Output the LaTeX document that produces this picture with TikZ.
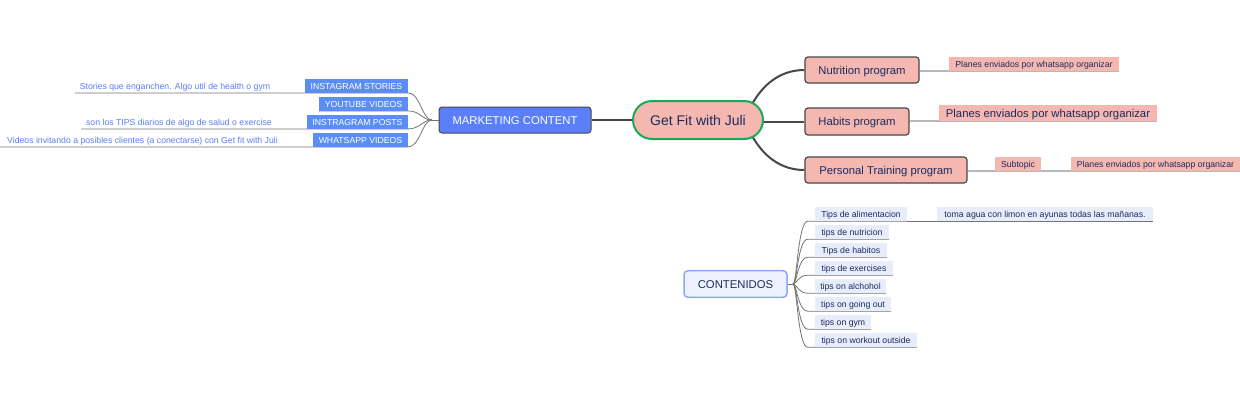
\documentclass[tikz,border=0pt]{standalone}
\usepackage{fontspec}
\setmainfont{Liberation Sans}
\usetikzlibrary{calc,backgrounds}
\definecolor{salmon}{HTML}{F4B8B1}
\definecolor{navy}{HTML}{1C2A5E}
\definecolor{mblue}{HTML}{5B7FF9}
\definecolor{cblue}{HTML}{5A8EF4}
\definecolor{ltxt}{HTML}{5B7CF2}
\definecolor{cfill}{HTML}{EDF2FE}
\definecolor{cbord}{HTML}{8BA7F7}
\definecolor{tfill}{HTML}{E7EDFB}
\definecolor{cgreen}{HTML}{1AAA55}
\definecolor{dgrey}{HTML}{474747}
\begin{document}
\begin{tikzpicture}[x=1pt,y=-1pt,
  every node/.style={inner sep=0pt},
  fbig/.style={font=\fontsize{14}{16}\selectfont, text height=10.1pt, text depth=0pt},
  fmid/.style={font=\fontsize{11.3}{13}\selectfont, text height=8.1pt, text depth=0pt},
  fsml/.style={font=\fontsize{8.7}{10}\selectfont, text height=6.3pt, text depth=0pt},
  rootbox/.style={fbig, fill=salmon, draw=cgreen, line width=2pt, rounded corners=19pt, text=navy, minimum height=38pt},
  prog/.style={fmid, fill=salmon, draw=dgrey, line width=1.2pt, rounded corners=3pt, text=navy, minimum height=26pt},
  pchild/.style={fsml, fill=salmon, text=navy, minimum height=13.4pt},
  mkbox/.style={fmid, fill=mblue, draw=dgrey, line width=1pt, rounded corners=3pt, text=white, minimum height=26pt},
  lbox/.style={fsml, fill=cblue, text=white, minimum height=13.4pt},
  ltext/.style={fsml, text=ltxt},
  conbox/.style={fmid, fill=cfill, draw=cbord, line width=1.5pt, rounded corners=4pt, text=navy, minimum height=26.6pt},
  tipbox/.style={fsml, fill=tfill, text=navy, minimum height=14pt},
  mainconn/.style={draw=dgrey, line width=2pt},
  subconn/.style={draw=black!28, line width=1.5pt},
  thinconn/.style={draw=black!55, line width=0.8pt}
]
\useasboundingbox (0,0) rectangle (1240,400);

% root and marketing
\node[rootbox, minimum width=130pt] (c) at (698,120) {Get Fit with Juli};
\node[mkbox, minimum width=152pt] (mk) at (515,120) {MARKETING CONTENT};

% programs
\node[prog, minimum width=114pt] (nut) at (862,70) {Nutrition program};
\node[prog, minimum width=104pt, minimum height=27pt] (hab) at (857,121.5) {Habits program};
\node[prog, minimum width=162pt] (pt) at (886,170) {Personal Training program};
\node[pchild, minimum width=170pt] (nc) at (1034,64) {Planes enviados por whatsapp organizar};
\node[pchild, fmid, minimum width=218pt, minimum height=16pt] (hc) at (1048,113) {Planes enviados por whatsapp organizar};
\node[pchild, minimum width=46pt, minimum height=14pt] (sub) at (1018,164) {Subtopic};
\node[pchild, minimum width=169pt, minimum height=14pt] (pc) at (1155.5,164) {Planes enviados por whatsapp organizar};

% marketing children
\node[lbox, minimum width=103pt] (is) at (356.5,86) {INSTAGRAM STORIES};
\node[lbox, minimum width=89pt] (yv) at (363.5,104) {YOUTUBE VIDEOS};
\node[lbox, minimum width=101pt] (ip) at (357.5,122) {INSTRAGRAM POSTS};
\node[lbox, minimum width=95pt] (wv) at (360.5,140) {WHATSAPP VIDEOS};
\node[ltext] (ist) at (175,86) {Stories que enganchen. Algo util de health o gym};
\node[ltext] (ipt) at (179,122.5) {son los TIPS diarios de algo de salud o exercise};
\node[ltext] (wvt) at (142.5,140.5) {Videos invitando a posibles clientes (a conectarse) con Get fit with Juli};
\coordinate (isL) at (75,93);
\coordinate (ipL) at (81,129);
\coordinate (wvL) at (0,147);
\coordinate (mkin) at (432,120);

% contenidos
\node[conbox, minimum width=103pt] (con) at (735.5,284) {CONTENIDOS};
\coordinate (conin) at (793,284);
\node[tipbox, minimum width=92pt] (t1) at (861,214) {Tips de alimentacion};
\node[tipbox, minimum width=74pt] (t2) at (852,232) {tips de nutricion};
\node[tipbox, minimum width=72pt] (t3) at (851,250) {Tips de habitos};
\node[tipbox, minimum width=78pt] (t4) at (854,268) {tips de exercises};
\node[tipbox, minimum width=71pt] (t5) at (850.5,286) {tips on alchohol};
\node[tipbox, minimum width=76pt] (t6) at (853,304) {tips on going out};
\node[tipbox, minimum width=56pt] (t7) at (843,322) {tips on gym};
\node[tipbox, minimum width=102pt] (t8) at (866,340) {tips on workout outside};
\node[tipbox, minimum width=216pt] (t1c) at (1045,214) {toma agua con limon en ayunas todas las mañanas.};

\begin{scope}[on background layer]
  % root connectors
  \draw[mainconn] (mk.east) -- (c.west);
  \draw[mainconn] ($(c.east)+(-16,-8)$) .. controls +(14,-30) and +(-22,0) .. (nut.west);
  \draw[mainconn] (c.east |- hab.west) -- (hab.west);
  \draw[mainconn] ($(c.east)+(-16,8)$) .. controls +(14,30) and +(-22,0) .. (pt.west);
  % program children
  \draw[subconn] (nut.east |- nc.south) -- (nc.south east);
  \draw[subconn] (hab.east |- hc.south) -- (hc.south east);
  \draw[subconn] (pt.east |- sub.south) -- (sub.south east) -- (pc.south east);
  % marketing children
  \draw[thinconn] (mk.west) -- (mkin);
  \draw[thinconn] (isL) -- (is.south east) .. controls +(12,0) and +(-10,0) .. (mkin);
  \draw[thinconn] (yv.south west) -- (yv.south east) .. controls +(12,0) and +(-10,0) .. (mkin);
  \draw[thinconn] (ipL) -- (ip.south east) .. controls +(12,0) and +(-10,0) .. (mkin);
  \draw[thinconn] (wvL) -- (wv.south east) .. controls +(12,0) and +(-10,0) .. (mkin);
  % contenidos children
  \draw[thinconn] (con.east) -- (conin);
  \foreach \t in {t1,t2,t3,t4,t5,t6,t7,t8}{
    \draw[thinconn] (conin) .. controls +(4,0) and +(-10,0) .. ($(\t.south west)+(-7,0)$) -- (\t.south east);
  }
  \draw[thinconn] (t1.south east) -- (t1c.south east);
\end{scope}
\end{tikzpicture}
\end{document}
